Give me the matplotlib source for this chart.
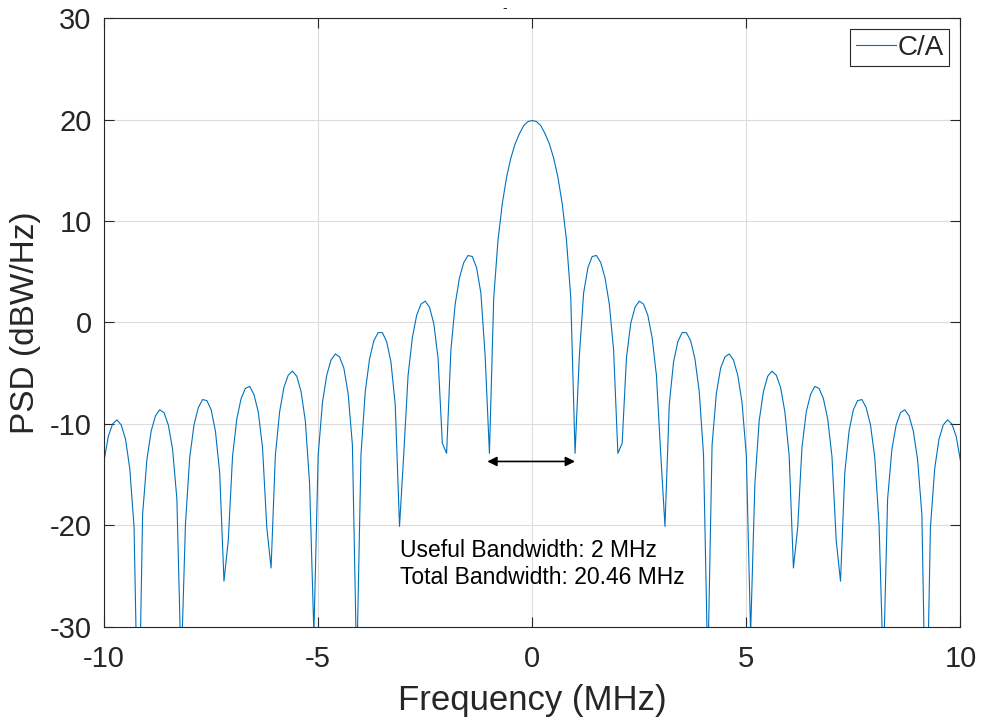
import numpy as np
import matplotlib
matplotlib.use("Agg")
import matplotlib.pyplot as plt

plt.rcParams['font.family'] = ['Liberation Sans', 'DejaVu Sans']
plt.rcParams['axes.unicode_minus'] = False

freq_mhz = np.linspace(-10, 10, 201)
psd_dbw_hz = [
    -13.6, -11.2, -10.0, -9.6, -10.1, -11.5, -14.4, -20.2, -42.5, -18.9,
    -13.5, -10.7, -9.2, -8.6, -8.9, -10.1, -12.5, -17.4, -34.3, -19.9,
    -13.3, -10.1, -8.4, -7.6, -7.7, -8.6, -10.7, -14.8, -25.5, -21.5,
    -13.2, -9.5, -7.5, -6.5, -6.3, -7.1, -8.8, -12.3, -20.2, -24.2,
    -13.1, -8.8, -6.4, -5.2, -4.8, -5.3, -6.8, -9.7, -15.9, -30.7,
    -13.1, -7.9, -5.2, -3.7, -3.1, -3.4, -4.5, -7.0, -12.1, -34.3,
    -13.0, -6.8, -3.6, -1.8, -1.0, -1.0, -1.9, -3.9, -8.1, -20.1,
    -12.9, -5.2, -1.5, 0.7, 1.8, 2.1, 1.5, -0.1, -3.5, -11.9,
    -12.9, -2.7, 1.8, 4.4, 5.9, 6.6, 6.5, 5.4, 2.9, -3.3,
    -12.9, 2.4, 8.1, 11.7, 14.3, 16.2, 17.6, 18.6, 19.4, 19.8,
    19.9,
    19.8, 19.4, 18.6, 17.6, 16.2, 14.3, 11.7, 8.1, 2.4, -12.9,
    -3.3, 2.9, 5.4, 6.5, 6.6, 5.9, 4.4, 1.8, -2.7, -12.9,
    -11.9, -3.5, -0.1, 1.5, 2.1, 1.8, 0.7, -1.5, -5.2, -12.9,
    -20.1, -8.1, -3.9, -1.9, -1.0, -1.0, -1.8, -3.6, -6.8, -13.0,
    -34.3, -12.1, -7.0, -4.5, -3.4, -3.1, -3.7, -5.2, -7.9, -13.1,
    -30.7, -15.9, -9.7, -6.8, -5.3, -4.8, -5.2, -6.4, -8.8, -13.1,
    -24.2, -20.2, -12.3, -8.8, -7.1, -6.3, -6.5, -7.5, -9.5, -13.2,
    -21.5, -25.5, -14.8, -10.7, -8.6, -7.7, -7.6, -8.4, -10.1, -13.3,
    -19.9, -34.3, -17.4, -12.5, -10.1, -8.9, -8.6, -9.2, -10.7, -13.5,
    -18.9, -42.5, -20.2, -14.4, -11.5, -10.1, -9.6, -10.0, -11.2, -13.6,
]
series_name = 'C/A'
x_ticks = [-10, -5, 0, 5, 10]
y_ticks = [-30, -20, -10, 0, 10, 20, 30]
useful_bw = (-1.05, 1.0)
notes = 'Useful Bandwidth: 2 MHz\nTotal Bandwidth: 20.46 MHz'

dark = '#262626'
fig = plt.figure(figsize=(9.82, 7.23), dpi=100)
ax = fig.add_axes([0.106, 0.133, 0.872, 0.842])

ax.plot(freq_mhz, psd_dbw_hz, color='#0072BD', lw=0.8, label=series_name)

ax.set_xlim(-10, 10)
ax.set_ylim(-30, 30)
ax.set_xticks(x_ticks)
ax.set_yticks(y_ticks)
ax.grid(True, color='#dcdcdc', lw=0.8)
ax.set_axisbelow(True)
ax.tick_params(direction='in', length=7, width=0.8, colors=dark,
               labelsize=21, top=True, right=True)
ax.tick_params(axis='x', pad=13)
ax.tick_params(axis='y', pad=9)
for s in ax.spines.values():
    s.set_color(dark)
    s.set_linewidth(0.8)

ax.set_xlabel('Frequency (MHz)', fontsize=25, color=dark, labelpad=8)
ax.set_ylabel('PSD (dBW/Hz)', fontsize=24, color=dark, labelpad=6)

ax.annotate('', xy=(useful_bw[1], -13.7), xytext=(useful_bw[0], -13.7),
            arrowprops=dict(arrowstyle='<|-|>', color='black', lw=1.2,
                            mutation_scale=14, shrinkA=0, shrinkB=0))
ax.text(-3.1, -23.8, notes, fontsize=16.5, color='black', va='center',
        ha='left', linespacing=1.2)

fig.text(505 / 982, 1 - 8 / 723, '-', fontsize=10, color=dark,
         ha='center', va='center')

leg = ax.legend(loc='upper right', fontsize=20, handlelength=1.45,
                handletextpad=0.05, borderpad=0.2, borderaxespad=0.4,
                fancybox=False, framealpha=1)
leg.get_frame().set_edgecolor(dark)
leg.get_frame().set_linewidth(0.8)
for t in leg.get_texts():
    t.set_color(dark)

fig.savefig('out.png', dpi=100)
